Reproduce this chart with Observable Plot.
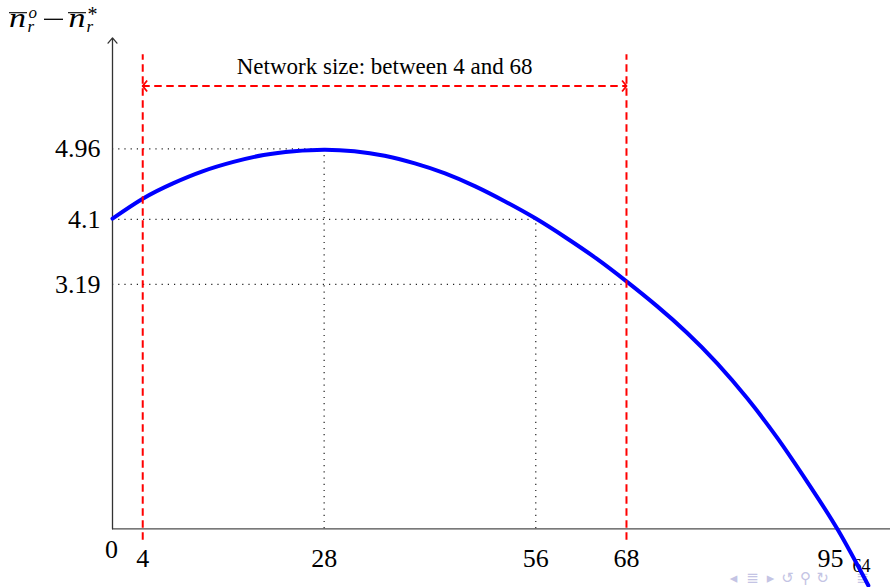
<!DOCTYPE html>
<html>
<head>
<meta charset="utf-8">
<script src="https://cdn.jsdelivr.net/npm/d3@7"></script>
<script src="https://cdn.jsdelivr.net/npm/@observablehq/plot@0.6"></script>
<style>
html, body { margin: 0; padding: 0; background: #fff; }
#wrap { position: relative; width: 890px; height: 587px; overflow: hidden; background: #fff; }
#ylab { position: absolute; left: 0; top: 0; }
</style>
</head>
<body>
<div id="wrap"><div id="chart"></div><svg id="ylab" width="130" height="45"></svg></div>
<script>
// ---- data ----
const curveX = [0, 4, 8, 12, 16, 20, 24, 28, 32, 36, 40, 44, 48, 52, 56, 60, 64, 68, 72, 76, 80, 84, 88, 92, 96, 100];
const curveY = [4.05, 4.31, 4.51, 4.67, 4.79, 4.88, 4.93, 4.95, 4.93, 4.87, 4.77, 4.64, 4.47, 4.27, 4.05, 3.80, 3.53, 3.23, 2.91, 2.56, 2.16, 1.70, 1.18, 0.60, -0.02, -0.74];

const xTicks = [4, 28, 56, 68, 95];
const xTickLabels = ["4", "28", "56", "68", "95"];
const yTicks = [4.96, 4.04, 3.19];
const yTickLabels = ["4.96", "4.1", "3.19"];

const guideYs = [4.96, 4.04, 3.19];     // dotted horizontal guides
const guideYEnds = [28, 56, 68];        // ... reaching these x values
const guideXs = [28, 56];               // dotted vertical guides
const guideXTops = [4.96, 4.04];

const rangeBounds = [4, 68];            // red dashed network-size bounds
const rangeLabel = "Network size: between 4 and 68";
const rangeArrowY = 5.78;
const rangeLabelY = 6.03;
const boundBottom = -0.15, boundTop = 6.19;
const yAxisTop = 6.41;

const xMax = 102.93, yMax = 6.897;

// ---- build tables ----
const curveData = curveX.map((x, i) => ({x, y: curveY[i]}));
const hGuides = guideYs.map((y, i) => ({y, x1: 0, x2: guideYEnds[i]}));
const vGuides = guideXs.map((x, i) => ({x, y1: 0, y2: guideXTops[i]}));
const bounds = rangeBounds.map(x => ({x, y1: boundBottom, y2: boundTop}));
const arrowBody = [{y: rangeArrowY, x1: rangeBounds[0], x2: rangeBounds[1]}];
const arrowHeads = rangeBounds.map((x, i) => ({x, y: rangeArrowY, rot: i === 0 ? 0 : 180}));
const chevron = {
  draw(ctx, size) {
    const r = Math.sqrt(size / Math.PI);
    ctx.moveTo(r * 0.8, -r);
    ctx.lineTo(0, 0);
    ctx.lineTo(r * 0.8, r);
  }
};
const navSymbols = ["◂", "≣", "▸", "↺", "⚲", "↻", "≣"];
const navOffsets = [-157, -138, -120, -103, -85, -68, -28];

const plot = Plot.plot({
  width: 890,
  height: 587,
  marginLeft: 112,
  marginRight: 0,
  marginTop: 0,
  marginBottom: 58.7,
  x: {domain: [0, xMax]},
  y: {domain: [0, yMax]},
  style: {fontFamily: "'Liberation Serif', serif", background: "white", color: "#000", overflow: "visible"},
  marks: [
    // slide furniture (behind the curve)
    Plot.text(["64"], {frameAnchor: "bottom-right", textAnchor: "middle", lineAnchor: "middle", text: d => d, dx: -29, dy: 37.5, fontSize: 18, fill: "#000"}),
    ...navSymbols.map((s, i) => Plot.text([s], {frameAnchor: "bottom-right", textAnchor: "middle", lineAnchor: "middle", text: d => d, dx: navOffsets[i], dy: 49.5, fontSize: 15, fill: "#c4c4e4", fontFamily: "DejaVu Sans"})),
    // dotted guides
    Plot.ruleY(hGuides, {y: "y", x1: "x1", x2: "x2", stroke: "#222", strokeWidth: 1.2, strokeDasharray: "1.2,5"}),
    Plot.ruleX(vGuides, {x: "x", y1: "y1", y2: "y2", stroke: "#222", strokeWidth: 1.2, strokeDasharray: "1.2,5"}),
    // axes
    Plot.ruleY([0], {stroke: "#4d4d4d", strokeWidth: 1.3}),
    Plot.arrow([{x: 0, y1: 0, y2: yAxisTop}], {x1: "x", x2: "x", y1: "y1", y2: "y2", stroke: "#333", strokeWidth: 1.3, headLength: 8, headAngle: 80}),
    Plot.axisX(xTicks, {tickSize: 0, tickPadding: 20, fontSize: 26, label: null, fill: "#000",
      tickFormat: d => xTickLabels[xTicks.indexOf(d)]}),
    Plot.axisY(yTicks, {tickSize: 0, tickPadding: 12, fontSize: 26, label: null, fill: "#000",
      tickFormat: d => yTickLabels[yTicks.indexOf(d)]}),
    Plot.text([{x: 0, y: 0, t: "0"}], {x: "x", y: "y", text: "t", lineAnchor: "top", dy: 11, dx: -1, fontSize: 26, fill: "#000"}),
    // curve
    Plot.line(curveData, {x: "x", y: "y", stroke: "#0000ff", strokeWidth: 4, curve: "natural"}),
    // red bounds & arrow
    Plot.ruleX(bounds, {x: "x", y1: "y1", y2: "y2", stroke: "#ff0000", strokeWidth: 2, strokeDasharray: "7.5,4.5"}),
    Plot.ruleY(arrowBody, {y: "y", x1: "x1", x2: "x2", stroke: "#ff0000", strokeWidth: 2, strokeDasharray: "7.5,4.5"}),
    Plot.dot(arrowHeads, {x: "x", y: "y", rotate: "rot", symbol: chevron, r: 5.5, fill: "none", stroke: "#ff0000", strokeWidth: 1.8}),
    Plot.text([{x: d3.mean(rangeBounds), y: rangeLabelY, t: rangeLabel}], {x: "x", y: "y", text: "t", fontSize: 23, fill: "#000"})
  ]
});
document.getElementById("chart").appendChild(plot);

// ---- y-axis quantity label: n̄_r^o − n̄_r^* ----
const lab = d3.select("#ylab");
const it = {"font-family": "'Liberation Serif', serif", "font-style": "italic", fill: "#000"};
function txt(s, x, y, size, opts = {}) {
  const t = lab.append("text").attr("x", x).attr("y", y).attr("font-size", size).text(s);
  Object.entries({...it, ...opts}).forEach(([k, v]) => t.attr(k, v));
  return t;
}
txt("n", 9, 26.5, 27).attr("textLength", 17).attr("lengthAdjust", "spacingAndGlyphs");
lab.append("line").attr("x1", 9).attr("x2", 27).attr("y1", 12.7).attr("y2", 12.7).attr("stroke", "#000").attr("stroke-width", 1.1);
txt("o", 28.5, 17.5, 17);
txt("r", 27.5, 32, 17);
lab.append("line").attr("x1", 44).attr("x2", 63).attr("y1", 19.3).attr("y2", 19.3).attr("stroke", "#000").attr("stroke-width", 1.3);
txt("n", 68.5, 26.5, 27).attr("textLength", 17).attr("lengthAdjust", "spacingAndGlyphs");
lab.append("line").attr("x1", 68).attr("x2", 86).attr("y1", 12.7).attr("y2", 12.7).attr("stroke", "#000").attr("stroke-width", 1.1);
txt("*", 87.5, 21, 20, {"font-style": "normal"});
txt("r", 86.5, 32, 17);
</script>
</body>
</html>
